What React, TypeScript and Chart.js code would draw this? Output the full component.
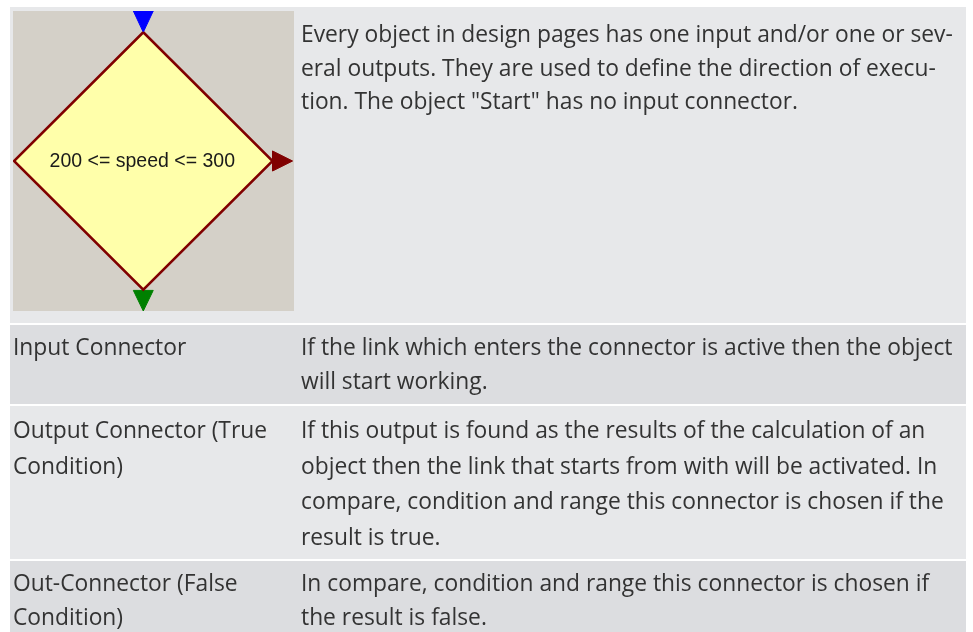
import React, { useEffect, useRef } from "react";
import { Chart, registerables } from "chart.js";

Chart.register(...registerables);

// Diagram data (units: diamond half-size = 1)
const diamondX = [0, 1, 0, -1, 0];
const diamondY = [1, 0, -1, 0, 1];
const inputConnectorX = [-0.077, 0.077, 0, -0.077];
const inputConnectorY = [1.165, 1.165, 1.0, 1.165];
const trueConnectorX = [-0.077, 0.077, 0, -0.077];
const trueConnectorY = [-1.005, -1.005, -1.165, -1.005];
const falseConnectorX = [1.0, 1.0, 1.155, 1.0];
const falseConnectorY = [0.078, -0.078, 0, 0.078];
const conditionLabel = "200 <= speed <= 300";

// Table text
const introLines = [
  "Every object in design pages has one input and/or one or sev-",
  "eral outputs. They are used to define the direction of execu-",
  'tion. The object "Start" has no input connector.',
];
const termLines = [
  ["Input Connector"],
  ["Output Connector (True", "Condition)"],
  ["Out-Connector (False", "Condition)"],
];
const descLines = [
  ["If the link which enters the connector is active then the object", "will start working."],
  [
    "If this output is found as the results of the calculation of an",
    "object then the link that starts from with will be activated. In",
    "compare, condition and range this connector is chosen if the",
    "result is true.",
  ],
  ["In compare, condition and range this connector is chosen if", "the result is false."],
];
const rowHeights = [79, 153, 80];
const rowLineHeights = [34, 35.7, 34];
const rowPadTop = [5, 6, 5];

const toPts = (xs: number[], ys: number[]) => xs.map((x, i) => ({ x, y: ys[i] }));

const labelPlugin = {
  id: "conditionLabel",
  afterDatasetsDraw(chart: any) {
    const { ctx, scales } = chart;
    const px = scales.x.getPixelForValue(0);
    const py = scales.y.getPixelForValue(0);
    ctx.save();
    ctx.font = '19.5px "Liberation Sans", Arial, sans-serif';
    ctx.fillStyle = "#1a1a1a";
    ctx.textAlign = "center";
    ctx.textBaseline = "middle";
    ctx.fillText(conditionLabel, px - 1, py + 1);
    ctx.restore();
  },
};

function Diagram() {
  const ref = useRef<HTMLCanvasElement | null>(null);
  useEffect(() => {
    if (!ref.current) return;
    const poly = (xs: number[], ys: number[], fillC: string, strokeC: string, bw: number) => ({
      data: toPts(xs, ys),
      showLine: true,
      fill: "shape",
      backgroundColor: fillC,
      borderColor: strokeC,
      borderWidth: bw,
      pointRadius: 0,
      tension: 0,
    });
    const chart = new Chart(ref.current, {
      type: "scatter",
      data: {
        datasets: [
          poly(diamondX, diamondY, "#ffffaa", "#800000", 2.5),
          poly(inputConnectorX, inputConnectorY, "#0000ff", "#0000ff", 1),
          poly(trueConnectorX, trueConnectorY, "#008000", "#008000", 1),
          poly(falseConnectorX, falseConnectorY, "#800000", "#800000", 1),
        ] as any,
      },
      options: {
        animation: false,
        responsive: false,
        maintainAspectRatio: false,
        layout: { padding: 0 },
        plugins: { legend: { display: false }, tooltip: { enabled: false } },
        events: [],
        scales: {
          x: { type: "linear", min: -1.008, max: 1.166, display: false },
          y: { type: "linear", min: -1.165, max: 1.165, display: false },
        },
      } as any,
      plugins: [labelPlugin],
    });
    return () => chart.destroy();
  }, []);
  return (
    <canvas
      ref={ref}
      width={281}
      height={300}
      style={{ display: "block", width: 281, height: 300, background: "#d4d0c8" }}
    />
  );
}

const textStyle: React.CSSProperties = {
  fontFamily: '"Open Sans", "Noto Sans", sans-serif',
  fontSize: 22.8,
  lineHeight: "35px",
  color: "#333333",
  whiteSpace: "nowrap",
};

export default function App() {
  const bg = ["#e7e8ea", "#dcdde0"];
  return (
    <div style={{ position: "absolute", left: 10, top: 7, width: 956, ...textStyle }}>
      <div style={{ height: 316, background: bg[0], display: "flex" }}>
        <div style={{ width: 288, paddingLeft: 3, paddingTop: 4, boxSizing: "border-box" }}>
          <Diagram />
        </div>
        <div style={{ paddingLeft: 3, paddingTop: 10, lineHeight: "33.5px" }}>
          {introLines.map((l, i) => (
            <div key={i}>{l}</div>
          ))}
        </div>
      </div>
      {termLines.map((t, r) => (
        <div
          key={r}
          style={{
            marginTop: 2,
            height: rowHeights[r],
            background: bg[(r + 1) % 2],
            display: "flex",
            boxSizing: "border-box",
            paddingTop: rowPadTop[r],
            lineHeight: rowLineHeights[r] + "px",
          }}
        >
          <div style={{ width: 288, paddingLeft: 3, boxSizing: "border-box" }}>
            {t.map((l, i) => (
              <div key={i}>{l}</div>
            ))}
          </div>
          <div style={{ paddingLeft: 3 }}>
            {descLines[r].map((l, i) => (
              <div key={i}>{l}</div>
            ))}
          </div>
        </div>
      ))}
    </div>
  );
}
